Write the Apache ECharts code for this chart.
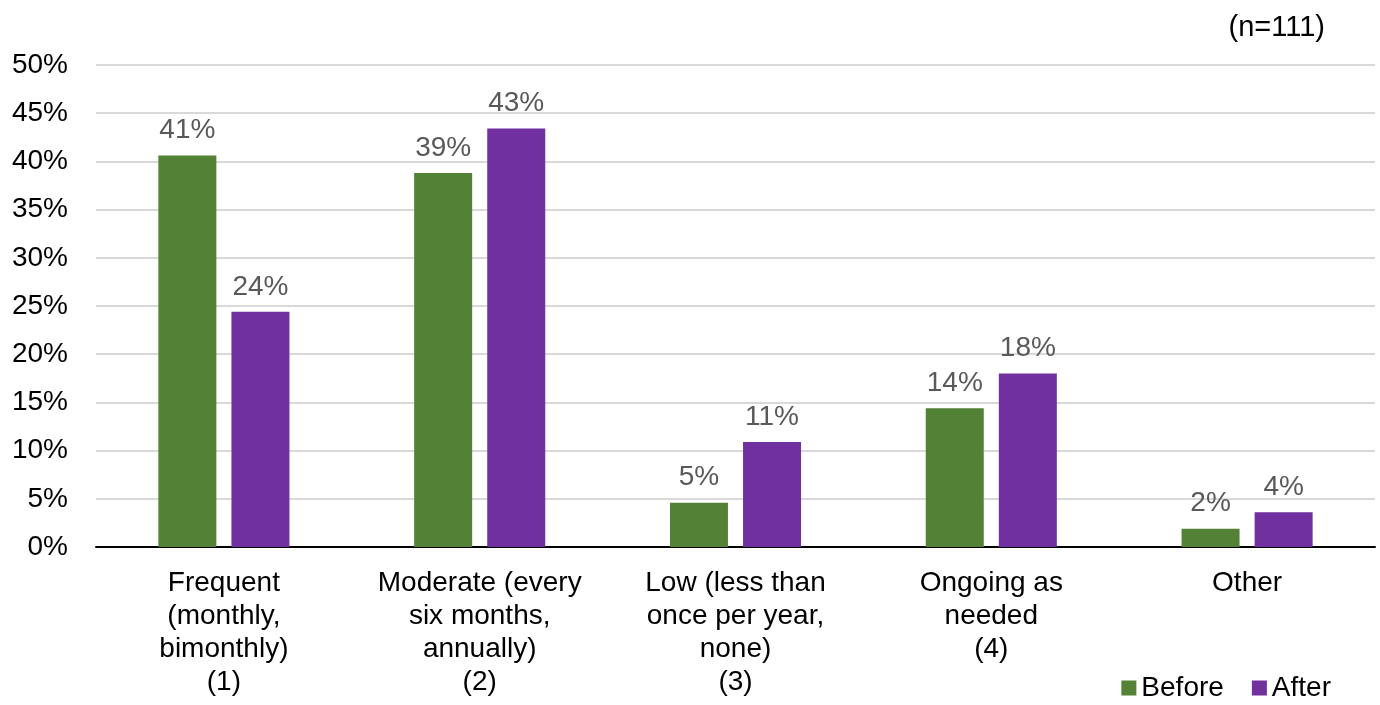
<!DOCTYPE html>
<html>
<head>
<meta charset="utf-8">
<script src="https://cdn.jsdelivr.net/npm/echarts@6/dist/echarts.min.js"></script>
<style>
  html, body { margin: 0; padding: 0; background: #fff; }
  #chart { width: 1380px; height: 705px; }
</style>
</head>
<body>
<div id="chart"></div>
<script>
// categories on the x axis
var categories = [
  'Frequent\n(monthly,\nbimonthly)\n(1)',
  'Moderate (every\nsix months,\nannually)\n(2)',
  'Low (less than\nonce per year,\nnone)\n(3)',
  'Ongoing as\nneeded\n(4)',
  'Other'
];
// percentages
var beforeValues = [40.6, 38.8, 4.6, 14.4, 1.9];
var afterValues = [24.4, 43.4, 10.9, 18.0, 3.6];

var FONT = '"Liberation Sans", Arial, sans-serif';

var chart = echarts.init(document.getElementById('chart'));

var labelOpt = {
  show: true,
  position: 'top',
  distance: 11,
  color: '#595959',
  fontSize: 28,
  fontFamily: FONT,
  formatter: function (p) { return Math.round(p.value) + '%'; }
};

chart.setOption({
  animation: false,
  title: {
    text: '(n=111)',
    right: 50,
    top: 8,
    textStyle: { color: '#000', fontSize: 29, fontWeight: 'normal', fontFamily: FONT }
  },
  legend: {
    data: ['Before', 'After'],
    right: 44,
    bottom: -2,
    itemWidth: 15,
    itemHeight: 15,
    itemGap: 28,
    icon: 'rect',
    textStyle: { color: '#000', fontSize: 28, fontFamily: FONT, padding: [0, 0, 0, 0] }
  },
  grid: { left: 96, right: 5, top: 65, bottom: 158 },
  xAxis: {
    type: 'category',
    data: categories,
    axisLine: { lineStyle: { color: '#000', width: 2 } },
    axisTick: { show: false },
    axisLabel: {
      color: '#000',
      fontSize: 28,
      fontFamily: FONT,
      lineHeight: 33,
      margin: 20,
      interval: 0
    }
  },
  yAxis: {
    type: 'value',
    min: 0,
    max: 50,
    interval: 5,
    axisLine: { show: false },
    axisTick: { show: false },
    splitLine: { lineStyle: { color: '#d9d9d9', width: 2 } },
    axisLabel: {
      color: '#000',
      fontSize: 28,
      fontFamily: FONT,
      margin: 28,
      formatter: '{value}%'
    }
  },
  series: [
    {
      name: 'Before',
      type: 'bar',
      data: beforeValues,
      barWidth: 58,
      barGap: '26%',
      itemStyle: { color: '#538135' },
      label: labelOpt
    },
    {
      name: 'After',
      type: 'bar',
      data: afterValues,
      barWidth: 58,
      itemStyle: { color: '#7030a0' },
      label: labelOpt
    }
  ]
});
</script>
</body>
</html>
